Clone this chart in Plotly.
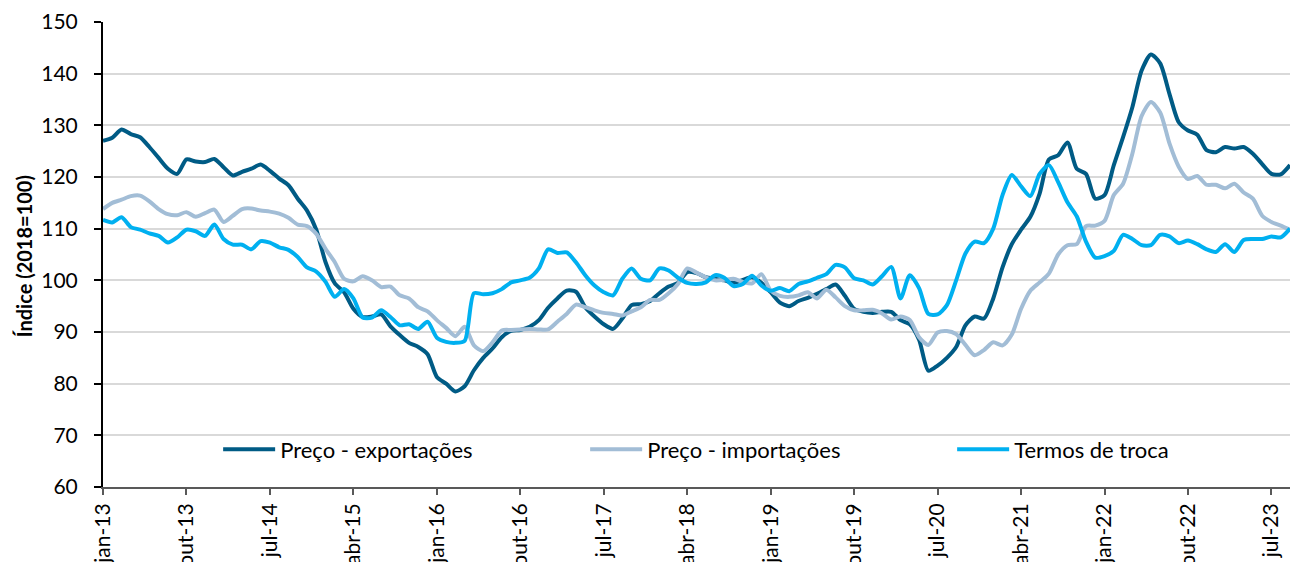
import plotly.graph_objects as go

# ---- data (monthly, jan-13 .. set-23) ----
month_abbr = ["jan", "fev", "mar", "abr", "mai", "jun", "jul", "ago", "set", "out", "nov", "dez"]
start_year = 13
n_months = 129
categories = [f"{month_abbr[i % 12]}-{start_year + i // 12}" for i in range(n_months)]

preco_exportacoes = [
    127.0, 127.6, 129.2, 128.3, 127.7, 125.8, 123.7, 121.6, 120.6, 123.4,
    123.0, 122.9, 123.5, 121.9, 120.3, 121.0, 121.6, 122.4, 121.2, 119.7,
    118.4, 115.8, 113.5, 109.8, 103.5, 99.4, 97.7, 94.5, 92.9, 93.0,
    93.4, 91.1, 89.4, 87.9, 87.1, 85.7, 81.3, 80.0, 78.5, 79.5,
    82.6, 85.0, 86.8, 89.0, 90.2, 90.4, 91.0, 92.3, 94.7, 96.5,
    98.0, 97.8, 94.8, 93.0, 91.5, 90.6, 92.6, 95.2, 95.4, 96.0,
    97.5, 98.8, 99.5, 101.6, 101.4, 100.6, 100.3, 100.0, 99.5, 100.1,
    100.6, 99.5, 97.7, 95.7, 95.0, 96.0, 96.6, 97.4, 98.3, 99.2,
    97.0, 94.5, 93.9, 93.7, 93.9, 93.9, 92.3, 91.5, 88.5, 82.5,
    83.5, 85.0, 87.1, 91.3, 93.0, 92.6, 96.5, 102.5, 107.0, 109.8,
    112.3, 116.8, 123.4, 124.2, 126.7, 121.6, 120.6, 115.8, 116.5, 122.3,
    127.7, 133.5, 140.6, 143.7, 142.0, 136.1, 130.6, 129.0, 128.2, 125.2,
    124.8, 125.8, 125.5, 125.8, 124.5, 122.5, 120.6, 120.5, 122.3,
]

preco_importacoes = [
    113.8, 115.0, 115.6, 116.3, 116.4, 115.3, 113.8, 112.8, 112.6, 113.2,
    112.3, 113.0, 113.7, 111.3, 112.5, 113.8, 113.9, 113.5, 113.3, 112.9,
    112.1, 110.8, 110.5, 109.0, 106.1, 103.5, 100.3, 99.8, 100.8, 100.0,
    98.7, 98.8, 97.1, 96.5, 94.8, 94.0, 92.3, 90.8, 89.2, 91.0,
    87.4, 86.3, 88.0, 90.3, 90.4, 90.5, 90.6, 90.5, 90.5, 92.0,
    93.5, 95.3, 94.8, 94.2, 93.7, 93.5, 93.2, 94.0, 94.8, 96.2,
    96.2, 97.5, 99.3, 102.3, 101.5, 100.6, 100.0, 100.1, 100.3, 99.7,
    99.4, 101.2, 98.0, 97.0, 96.8, 97.1, 97.7, 96.5, 98.2, 96.7,
    95.0, 94.2, 94.2, 94.3, 93.6, 92.4, 93.0, 92.3, 89.0, 87.5,
    89.9, 90.2, 89.6, 87.5, 85.5, 86.5, 88.0, 87.4, 89.5, 94.5,
    98.0, 99.6, 101.3, 105.0, 106.8, 107.0, 110.5, 110.6, 111.5, 116.5,
    118.7, 124.5, 131.8, 134.5, 132.5, 126.5, 122.0, 119.6, 120.2, 118.5,
    118.5, 117.8, 118.7, 117.0, 115.8, 112.5, 111.3, 110.6, 109.8,
]

termos_de_troca = [
    111.7, 111.2, 112.2, 110.3, 109.8, 109.1, 108.6, 107.3, 108.3, 109.8,
    109.5, 108.6, 110.8, 108.0, 106.9, 106.9, 106.0, 107.6, 107.3, 106.4,
    105.9, 104.5, 102.5, 101.7, 99.7, 96.8, 98.3, 96.5, 92.8, 92.8,
    94.2, 92.9, 91.3, 91.5, 90.6, 92.0, 88.9, 88.1, 87.9, 88.3,
    97.5, 97.3, 97.5, 98.3, 99.6, 100.0, 100.5, 102.3, 106.0, 105.3,
    105.4, 103.5, 101.0, 99.0, 97.7, 97.1, 100.3, 102.3, 100.3, 100.0,
    102.3, 101.9, 100.5, 99.5, 99.3, 99.6, 101.0, 100.5, 98.9, 99.3,
    100.9, 99.0, 98.0, 98.5, 97.9, 99.3, 99.8, 100.5, 101.2, 103.0,
    102.5, 100.4, 100.0, 99.2, 100.8, 102.6, 96.5, 101.0, 98.5, 93.5,
    93.4, 95.2, 100.0, 105.2, 107.5, 107.2, 110.0, 116.5, 120.4, 118.2,
    116.3, 120.6, 122.3, 119.0, 115.1, 112.4, 107.5, 104.4, 104.7, 105.7,
    108.8, 108.0, 106.8, 106.8, 108.8, 108.5, 107.2, 107.7, 107.0, 106.0,
    105.5, 107.0, 105.5, 107.8, 108.0, 108.0, 108.5, 108.3, 110.0,
]

series_names = ["Preço - exportações", "Preço - importações", "Termos de troca"]
series_colors = ["#005b85", "#a2bdd6", "#00b0f0"]
tick_step = 9
tick_labels = categories[::tick_step]

FONT = "Lato, 'Open Sans', sans-serif"

fig = go.Figure()
for name, values, color in zip(series_names,
                               [preco_exportacoes, preco_importacoes, termos_de_troca],
                               series_colors):
    fig.add_trace(go.Scatter(
        x=categories, y=values, name=name, mode="lines",
        line=dict(color=color, width=4, shape="spline", smoothing=0.7),
    ))

fig.update_layout(
    width=1290, height=562,
    margin=dict(l=103, r=0, t=22, b=75, autoexpand=False),
    paper_bgcolor="white", plot_bgcolor="white",
    font=dict(family=FONT, size=21, color="#000000"),
    showlegend=True,
    legend=dict(
        orientation="h", x=0.097, y=0.081, xanchor="left", yanchor="middle",
        entrywidth=300, entrywidthmode="pixels", itemwidth=52,
        font=dict(family=FONT, size=22, color="#000000"),
        bgcolor="rgba(0,0,0,0)", tracegroupgap=0,
    ),
    xaxis=dict(
        type="category", range=[0, n_months - 1], automargin=False,
        tickmode="array", tickvals=tick_labels, ticktext=tick_labels,
        tickangle=-90, ticks="outside", ticklen=6, tickwidth=1.5, tickcolor="#595959",
        showline=True, linecolor="#595959", linewidth=2,
        showgrid=False, zeroline=False,
        tickfont=dict(family=FONT, size=21, color="#000000"),
    ),
    yaxis=dict(
        range=[60, 150], tickmode="linear", tick0=60, dtick=10, automargin=False,
        ticks="outside", ticklen=7, tickwidth=1.5, tickcolor="#000000",
        ticklabelstandoff=12,
        showline=True, linecolor="#000000", linewidth=2,
        showgrid=True, gridcolor="#d9d9d9", gridwidth=2,
        zeroline=False,
        tickfont=dict(family=FONT, size=21, color="#000000"),
    ),
    annotations=[dict(
        text="<b>Índice (2018=100)</b>", textangle=-90,
        xref="paper", yref="paper", x=-0.0666, y=0.496,
        xanchor="center", yanchor="middle", showarrow=False,
        font=dict(family=FONT, size=20, color="#000000"),
    )],
)

fig.write_html(
    "out.html",
    config={"displayModeBar": False},
    post_script="document.body.style.margin='0';document.body.style.overflow='hidden';",
)
